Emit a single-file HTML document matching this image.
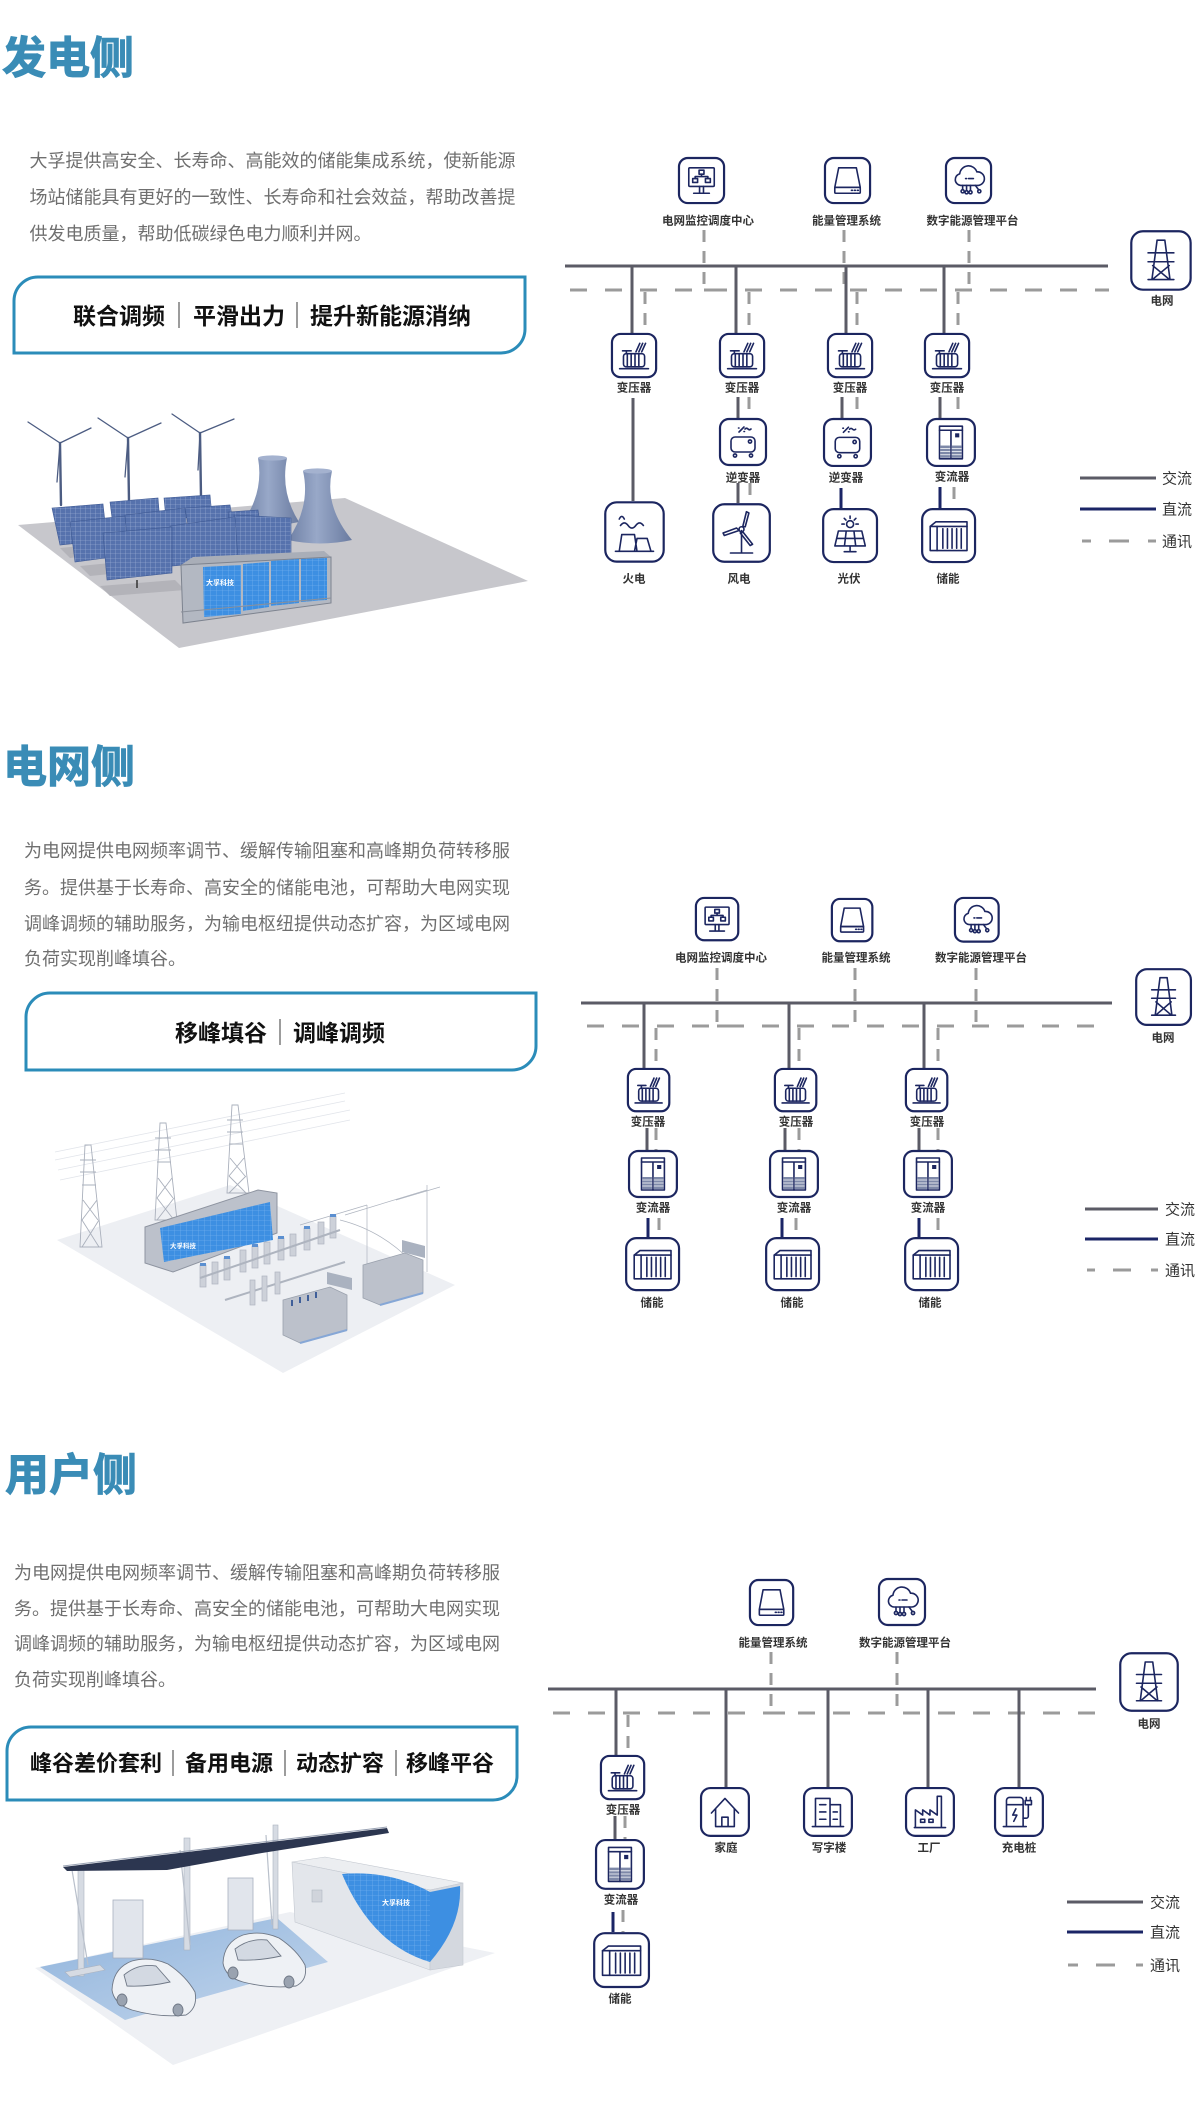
<!DOCTYPE html>
<html lang="zh-CN">
<head>
<meta charset="utf-8">
<title>发电侧 · 电网侧 · 用户侧</title>
<style>
  html,body{margin:0;padding:0;background:#fff;}
  body{width:1200px;height:2110px;overflow:hidden;}
  svg{display:block;}
  .t{font-family:"Liberation Sans","Noto Sans CJK SC",sans-serif;}
  .h{font-size:44px;font-weight:700;fill:#3a8cb6;stroke:#3a8cb6;stroke-width:1;}
  .p{font-size:18px;fill:#6f6f6f;}
  .b{font-size:23px;font-weight:700;fill:#111;}
  .b3{font-size:22px;font-weight:700;fill:#111;}
  .lb{font-size:11.5px;font-weight:700;fill:#333;text-anchor:middle;}
  .lg{font-size:15px;fill:#333;}
  .box{fill:none;stroke:#2b8cb9;stroke-width:3;}
  .sep{stroke:#666;stroke-width:1.3;}
  .ac{stroke:#5b5b66;stroke-width:3;}
  .dc{stroke:#1b2566;stroke-width:3;}
  .dh{stroke:#9b9b9b;stroke-width:3;stroke-dasharray:17 18;}
  .dv{stroke:#9b9b9b;stroke-width:3;stroke-dasharray:12 9;}
  .dl{stroke:#9b9b9b;stroke-width:3;}
  .ic{fill:none;stroke:#1c2660;stroke-width:1.6;stroke-linecap:round;stroke-linejoin:round;}
  .ic *{vector-effect:non-scaling-stroke;}
  .ic .o{fill:#fff;stroke-width:2.2;}
  .ic .f{fill:#1c2660;stroke:none;}
  .ic .g{fill:#7d88a8;stroke:none;}
  .ic .w{stroke:#fff;stroke-width:0.8;}
</style>
</head>
<body>
<svg width="1200" height="2110" viewBox="0 0 1200 2110" xmlns="http://www.w3.org/2000/svg">
<defs>
  <linearGradient id="ct" x1="0" x2="1" y1="0" y2="0">
    <stop offset="0" stop-color="#6f80a5"/>
    <stop offset="0.45" stop-color="#98a8c8"/>
    <stop offset="1" stop-color="#6a7ba0"/>
  </linearGradient>
  <pattern id="sp" width="5" height="4.5" patternUnits="userSpaceOnUse">
    <rect width="5" height="4.5" fill="#5672ad"/>
    <path d="M0 0H5M0 0V4.5" stroke="#a3b5da" stroke-width="0.6"/>
  </pattern>
  <pattern id="bp" width="6" height="5" patternUnits="userSpaceOnUse">
    <rect width="6" height="5" fill="#3d8fe2"/>
    <path d="M0 0H6M0 0V5" stroke="#7fb8f0" stroke-width="0.6"/>
  </pattern>
  <linearGradient id="sh" x1="0" x2="1" y1="0" y2="1">
    <stop offset="0" stop-color="#8fb3dc"/>
    <stop offset="1" stop-color="#c3d6ec"/>
  </linearGradient>
</defs>

<!-- ================= SECTION 1 : 发电侧 ================= -->
<text class="t h" x="2" y="73">发电侧</text>
<text class="t p" x="29.5" y="167">大孚提供高安全、长寿命、高能效的储能集成系统，使新能源</text>
<text class="t p" x="29.5" y="203.5">场站储能具有更好的一致性、长寿命和社会效益，帮助改善提</text>
<text class="t p" x="29.5" y="240">供发电质量，帮助低碳绿色电力顺利并网。</text>

<path class="box" d="M14 353V301A24 24 0 0 1 38 277H525V329A24 24 0 0 1 501 353Z"/>
<text class="t b" x="73" y="324">联合调频</text>
<line class="sep" x1="179" y1="302" x2="179" y2="328"/>
<text class="t b" x="193" y="324">平滑出力</text>
<line class="sep" x1="297" y1="302" x2="297" y2="328"/>
<text class="t b" x="310" y="324">提升新能源消纳</text>

<!-- illustration 1 -->
<g>
  <polygon points="18,525 345,498 528,581 179,648" fill="#c7c7cc"/>
  <polygon points="60,548 110,543 120,552 70,558" fill="#b3b3b9"/>
  <polygon points="80,566 140,560 150,570 90,576" fill="#b3b3b9"/>
  <polygon points="100,586 175,580 185,590 110,596" fill="#b3b3b9"/>
  <g stroke="#4c5c82" stroke-linecap="round">
    <line x1="60" y1="443" x2="61" y2="505" stroke-width="2.4"/>
    <line x1="60" y1="443" x2="28" y2="422" stroke-width="1.3"/>
    <line x1="60" y1="443" x2="91" y2="428" stroke-width="1.3"/>
    <line x1="60" y1="443" x2="57" y2="482" stroke-width="1.3"/>
    <line x1="128" y1="438" x2="129" y2="502" stroke-width="2.4"/>
    <line x1="128" y1="438" x2="98" y2="418" stroke-width="1.3"/>
    <line x1="128" y1="438" x2="161" y2="423" stroke-width="1.3"/>
    <line x1="128" y1="438" x2="125" y2="477" stroke-width="1.3"/>
    <line x1="200" y1="433" x2="201" y2="497" stroke-width="2.4"/>
    <line x1="200" y1="433" x2="172" y2="414" stroke-width="1.3"/>
    <line x1="200" y1="433" x2="234" y2="419" stroke-width="1.3"/>
    <line x1="200" y1="433" x2="198" y2="470" stroke-width="1.3"/>
  </g>
  <path d="M258 458H287Q280 492 299 522Q271 528 243 522Q264 492 258 458Z" fill="url(#ct)"/>
  <ellipse cx="272.5" cy="458" rx="14.5" ry="2.6" fill="#a4b2cf"/>
  <path d="M303 471H332Q324 506 352 540Q320 547 288 540Q311 506 303 471Z" fill="url(#ct)"/>
  <ellipse cx="317.5" cy="471" rx="14.5" ry="2.6" fill="#a4b2cf"/>
  <g fill="url(#sp)" stroke="#3f5a94" stroke-width="0.6">
    <polygon points="52,508 103,504 107,540 60,545"/>
    <polygon points="110,502 158,498 160,522 113,526"/>
    <polygon points="164,498 210,495 212,516 166,519"/>
    <polygon points="70,522 125,516 128,555 75,562"/>
    <polygon points="125,515 185,508 188,545 128,552"/>
    <polygon points="185,508 230,505 235,532 190,536"/>
    <polygon points="228,512 258,510 262,536 232,539"/>
    <polygon points="234,515 291,518 291,553 237,556"/>
    <polygon points="170,526 235,517 238,560 172,566"/>
    <polygon points="103,533 172,527 172,573 107,580"/>
  </g>
  <line x1="137" y1="580" x2="137" y2="588" stroke="#333" stroke-width="1.5"/>
  <line x1="236" y1="556" x2="236" y2="562" stroke="#333" stroke-width="1.5"/>
  <polygon points="181,565 193,557 324,551 331,557" fill="#a9aeb8"/>
  <polygon points="181,565 331,557 331,603 183,623" fill="#b3b8c2" stroke="#7d838f" stroke-width="1"/>
  <polygon points="203,567 241,565 241,614 204,617" fill="url(#bp)"/>
  <polygon points="243,564 269,562 269,607 243,611" fill="url(#bp)"/>
  <polygon points="271,561 299,559 299,603 271,606" fill="url(#bp)"/>
  <polygon points="301,559 327,558 327,600 301,602" fill="url(#bp)"/>
  <line x1="181" y1="612" x2="331" y2="598" stroke="#8a909b" stroke-width="1"/>
  <text class="t" x="206" y="585" font-size="7" fill="#fff" font-weight="700">大孚科技</text>
</g>

<!-- diagram 1 -->
<line class="ac" x1="565" y1="266" x2="1108" y2="266"/>
<line class="dh" x1="570" y1="290" x2="1109" y2="290"/>
<line class="dv" x1="704" y1="230" x2="704" y2="290"/>
<line class="dl" x1="704" y1="290" x2="721" y2="290"/>
<line class="dv" x1="844" y1="230" x2="844" y2="290"/>
<line class="dv" x1="969" y1="230" x2="969" y2="290"/>
<g>
  <line class="ac" x1="632" y1="266" x2="632" y2="333"/>
  <line class="ac" x1="736" y1="266" x2="736" y2="333"/>
  <line class="ac" x1="846" y1="266" x2="846" y2="333"/>
  <line class="ac" x1="944" y1="266" x2="944" y2="333"/>
  <line class="dv" x1="645" y1="292" x2="645" y2="333"/>
  <line class="dv" x1="749" y1="292" x2="749" y2="333"/>
  <line class="dv" x1="857" y1="292" x2="857" y2="333"/>
  <line class="dv" x1="958" y1="292" x2="958" y2="333"/>
  <line class="ac" x1="633" y1="398" x2="633" y2="501"/>
  <line class="ac" x1="738" y1="397" x2="738" y2="418"/>
  <line class="dv" x1="749" y1="397" x2="749" y2="418"/>
  <line class="ac" x1="738" y1="483" x2="738" y2="503"/>
  <line class="dv" x1="750" y1="483" x2="750" y2="503"/>
  <line class="ac" x1="842" y1="397" x2="842" y2="418"/>
  <line class="dv" x1="857" y1="397" x2="857" y2="418"/>
  <line class="dc" x1="841" y1="488" x2="841" y2="508"/>
  <line class="ac" x1="940" y1="397" x2="940" y2="418"/>
  <line class="dv" x1="958" y1="397" x2="958" y2="418"/>
  <line class="dc" x1="940" y1="487" x2="940" y2="508"/>
  <line class="dv" x1="954" y1="487" x2="954" y2="508"/>
</g>

<g class="ic" transform="translate(678,157) scale(0.98)">
  <rect class="o" x="1" y="1" width="46" height="46" rx="9"/>
  <rect x="11" y="11" width="26" height="19" rx="1"/>
  <path d="M22 30v7M26 30v7M16 37h16"/>
  <rect x="21.5" y="13.5" width="5" height="4"/><rect x="15" y="22" width="5" height="4"/><rect x="28" y="22" width="5" height="4"/>
  <path d="M24 17.5v2.5M17.5 22v-2h13v2"/>
</g>
<g class="ic" transform="translate(824,157) scale(0.98)">
  <rect class="o" x="1" y="1" width="46" height="46" rx="9"/>
  <path d="M15 11h18l4 20H11z"/><rect x="11" y="31" width="26" height="6" rx="1"/>
  <path d="M28 34h1M31 34h1M34 34h1"/>
</g>
<g class="ic" transform="translate(945,157) scale(0.98)">
  <rect class="o" x="1" y="1" width="46" height="46" rx="9"/>
  <path d="M16 29a6 6 0 0 1 -1 -11.8a9 9 0 0 1 17.5 -2a6.5 6.5 0 0 1 1.5 13.8Z"/>
  <path d="M21 22h1M24 22h5M18 29v4M22 29v5M26 29v5M31 29l3 4"/>
  <circle cx="18" cy="35" r="1.6"/><circle cx="22" cy="36" r="1.6"/><circle cx="26" cy="36" r="1.6"/><circle cx="35" cy="35" r="1.6"/>
</g>
<g class="ic" transform="translate(1130,230) scale(1.29,1.27)">
  <rect class="o" x="1" y="1" width="46" height="46" rx="9"/>
  <path d="M21 8h6M21 8l-4 31M27 8l4 31M14 18h20M14 25h20M17.6 28L30.6 39M30.4 28L17.4 39M14 39h20"/>
</g>
<g class="ic" transform="translate(611,333) scale(0.96,0.94)">
  <rect class="o" x="1" y="1" width="46" height="46" rx="9"/>
  <path d="M9 38h30"/><rect x="13" y="22" width="22" height="14" rx="3"/>
  <path d="M17 22v14M21 22v14M25 22v14M29 22v14M12 19h9M16 19v3M26 20l4-9M29 20l4-9M32 20l4-9"/>
</g>
<g class="ic" transform="translate(719,333) scale(0.96,0.94)">
  <rect class="o" x="1" y="1" width="46" height="46" rx="9"/>
  <path d="M9 38h30"/><rect x="13" y="22" width="22" height="14" rx="3"/>
  <path d="M17 22v14M21 22v14M25 22v14M29 22v14M12 19h9M16 19v3M26 20l4-9M29 20l4-9M32 20l4-9"/>
</g>
<g class="ic" transform="translate(827,333) scale(0.96,0.94)">
  <rect class="o" x="1" y="1" width="46" height="46" rx="9"/>
  <path d="M9 38h30"/><rect x="13" y="22" width="22" height="14" rx="3"/>
  <path d="M17 22v14M21 22v14M25 22v14M29 22v14M12 19h9M16 19v3M26 20l4-9M29 20l4-9M32 20l4-9"/>
</g>
<g class="ic" transform="translate(924,333) scale(0.96,0.94)">
  <rect class="o" x="1" y="1" width="46" height="46" rx="9"/>
  <path d="M9 38h30"/><rect x="13" y="22" width="22" height="14" rx="3"/>
  <path d="M17 22v14M21 22v14M25 22v14M29 22v14M12 19h9M16 19v3M26 20l4-9M29 20l4-9M32 20l4-9"/>
</g>
<g class="ic" transform="translate(719,418) scale(1.0,1.0)">
  <rect class="o" x="1" y="1" width="46" height="46" rx="9"/>
  <path d="M20 14l5-5M19.5 10h0.5M25 13.5h0.5M26 11q1.5-1.5 3 0t3 0"/>
  <rect x="12" y="19" width="24" height="15" rx="4"/><circle cx="31" cy="23.5" r="1.6"/>
  <circle cx="16" cy="37.5" r="1.6"/><circle cx="32" cy="37.5" r="1.6"/>
</g>
<g class="ic" transform="translate(823,418) scale(1.02,1.02)">
  <rect class="o" x="1" y="1" width="46" height="46" rx="9"/>
  <path d="M20 14l5-5M19.5 10h0.5M25 13.5h0.5M26 11q1.5-1.5 3 0t3 0"/>
  <rect x="12" y="19" width="24" height="15" rx="4"/><circle cx="31" cy="23.5" r="1.6"/>
  <circle cx="16" cy="37.5" r="1.6"/><circle cx="32" cy="37.5" r="1.6"/>
</g>
<g class="ic" transform="translate(926,418) scale(1.04,1.02)">
  <rect class="o" x="1" y="1" width="46" height="46" rx="9"/>
  <rect x="13" y="8" width="22" height="32"/><path d="M13 12h22M24 12v28"/>
  <rect class="f" x="28" y="15" width="4" height="4"/>
  <rect class="g" x="14" y="27" width="9" height="12"/><rect class="g" x="25" y="27" width="9" height="12"/>
  <path class="w" d="M14 30h9M14 33h9M14 36h9M25 30h9M25 33h9M25 36h9"/>
</g>
<g class="ic" transform="translate(604,501) scale(1.27,1.29)">
  <rect class="o" x="1" y="1" width="46" height="46" rx="9"/>
  <path d="M9 39h30M12 39l2-13h10l2 13M24 39l2-10h8l3 10"/>
  <path d="M13 19q3-4 6 0t6 0t6 0M12 14q2-4 4 0"/>
</g>
<g class="ic" transform="translate(712,503) scale(1.23,1.25)">
  <rect class="o" x="1" y="1" width="46" height="46" rx="9"/>
  <path d="M24 22v18M15 40h18"/><circle cx="24" cy="21" r="2"/>
  <path d="M25 19l3-12l2 1l-3 11z M22 22l-12 4l-1-2l11-4z M25 23l8 10l-2 1l-8-10z"/>
</g>
<g class="ic" transform="translate(822,508) scale(1.17,1.15)">
  <rect class="o" x="1" y="1" width="46" height="46" rx="9"/>
  <circle cx="24" cy="14" r="3"/>
  <path d="M24 7v2M19 9l1.5 1.5M29 9l-1.5 1.5M17 14h2M29 14h2"/>
  <path d="M14 20h20l3 13H11z M12.5 26.5h23 M20.7 20l-1.5 13 M27.3 20l1.5 13 M24 33v4 M19 38h10"/>
</g>
<g class="ic" transform="translate(921,508) scale(1.15,1.15)">
  <rect class="o" x="1" y="1" width="46" height="46" rx="9"/>
  <rect x="8" y="16" width="32" height="21"/>
  <path d="M8 16l5-4h27v4M14 16v21M19 18v17M23 18v17M27 18v17M31 18v17M35 18v17"/>
</g>

<g class="t">
  <text class="lb" x="708" y="224.3">电网监控调度中心</text>
  <text class="lb" x="846.5" y="224.3">能量管理系统</text>
  <text class="lb" x="972.5" y="224.3">数字能源管理平台</text>
  <text class="lb" x="1162" y="304.3">电网</text>
  <text class="lb" x="634" y="391.3">变压器</text>
  <text class="lb" x="742" y="391.3">变压器</text>
  <text class="lb" x="850" y="391.3">变压器</text>
  <text class="lb" x="947" y="391.3">变压器</text>
  <text class="lb" x="743" y="481.3">逆变器</text>
  <text class="lb" x="846" y="481.3">逆变器</text>
  <text class="lb" x="952" y="480.3">变流器</text>
  <text class="lb" x="634" y="582.3">火电</text>
  <text class="lb" x="739" y="582.3">风电</text>
  <text class="lb" x="849" y="582.3">光伏</text>
  <text class="lb" x="948" y="582.3">储能</text>
</g>
<line class="ac" x1="1080" y1="478" x2="1156" y2="478"/>
<line class="dc" x1="1080" y1="509" x2="1156" y2="509"/>
<line class="dl" x1="1082" y1="541" x2="1091" y2="541"/>
<line class="dl" x1="1109" y1="541" x2="1129" y2="541"/>
<line class="dl" x1="1148" y1="541" x2="1156" y2="541"/>
<text class="t lg" x="1162" y="483.7">交流</text>
<text class="t lg" x="1162" y="514.7">直流</text>
<text class="t lg" x="1162" y="546.7">通讯</text>

<!-- ================= SECTION 2 : 电网侧 ================= -->
<text class="t h" x="3" y="782">电网侧</text>
<text class="t p" x="24" y="857">为电网提供电网频率调节、缓解传输阻塞和高峰期负荷转移服</text>
<text class="t p" x="24" y="894">务。提供基于长寿命、高安全的储能电池，可帮助大电网实现</text>
<text class="t p" x="24" y="930">调峰调频的辅助服务，为输电枢纽提供动态扩容，为区域电网</text>
<text class="t p" x="24" y="965">负荷实现削峰填谷。</text>

<path class="box" d="M26 1070V1017A24 24 0 0 1 50 993H536V1046A24 24 0 0 1 512 1070Z"/>
<text class="t b" x="175" y="1041">移峰填谷</text>
<line class="sep" x1="280" y1="1019" x2="280" y2="1045"/>
<text class="t b" x="293" y="1041">调峰调频</text>

<!-- illustration 2 -->
<g>
  <polygon points="57,1240 230,1185 455,1285 283,1373" fill="#edeff3"/>
  <g stroke="#e1e4ea" stroke-width="0.8">
    <line x1="55" y1="1152" x2="345" y2="1093"/>
    <line x1="55" y1="1160" x2="345" y2="1101"/>
    <line x1="58" y1="1170" x2="350" y2="1110"/>
    <line x1="60" y1="1180" x2="350" y2="1120"/>
  </g>
  <g fill="none" stroke="#aab0bc" stroke-width="0.9">
    <path d="M85 1145h6l11 102h-22z M80 1160h16 M80 1172h16 M82 1185h14 M83 1200l15 20 M97 1200l-15 20 M82 1220l17 27 M99 1220l-17 27"/>
    <path d="M160 1123h6l11 97h-22z M155 1138h16 M155 1150h16 M157 1162h14 M158 1178l15 20 M172 1178l-15 20 M157 1198l17 22 M174 1198l-17 22"/>
    <path d="M232 1105h6l11 88h-22z M227 1120h16 M227 1132h16 M229 1144h14 M230 1158l15 18 M244 1158l-15 18 M229 1176l17 17 M246 1176l-17 17"/>
  </g>
  <polygon points="145,1227 258,1190 277,1193 277,1233 173,1272 145,1263" fill="#bcc1cb" stroke="#8e94a0" stroke-width="1"/>
  <polygon points="160,1228 270,1202 273,1240 164,1262" fill="url(#bp)"/>
  <text class="t" x="170" y="1248" font-size="6.5" fill="#fff" font-weight="700">大孚科技</text>
  <g fill="#cdd1d9" stroke="#aeb4bf" stroke-width="0.7">
    <path d="M367 1290V1205 M427 1272V1185 M345 1215L427 1190 M300 1225L367 1205" fill="none"/>
    <path d="M396 1200L440 1187 M340 1220Q380 1230 410 1260" fill="none"/>
    <rect x="200" y="1265" width="6" height="22"/>
    <rect x="212" y="1262" width="6" height="22"/>
    <rect x="224" y="1258" width="6" height="22"/>
    <rect x="240" y="1250" width="6" height="22"/>
    <rect x="252" y="1246" width="6" height="22"/>
    <rect x="264" y="1242" width="6" height="22"/>
    <rect x="278" y="1238" width="6" height="22"/>
    <rect x="290" y="1234" width="6" height="22"/>
    <rect x="304" y="1228" width="6" height="22"/>
    <rect x="318" y="1222" width="6" height="22"/>
    <rect x="330" y="1216" width="6" height="22"/>
    <path d="M200 1278L340 1230" fill="none" stroke-width="2"/>
    <path d="M225 1300L345 1262" fill="none" stroke-width="2"/>
    <rect x="250" y="1280" width="5" height="25"/>
    <rect x="262" y="1276" width="5" height="25"/>
    <rect x="275" y="1272" width="5" height="22"/>
  </g>
  <g fill="#5b8fd0">
    <rect x="200" y="1263" width="6" height="3"/><rect x="224" y="1256" width="6" height="3"/>
    <rect x="252" y="1244" width="6" height="3"/><rect x="278" y="1236" width="6" height="3"/>
    <rect x="304" y="1226" width="6" height="3"/><rect x="330" y="1214" width="6" height="3"/>
  </g>
  <polygon points="283,1300 330,1287 347,1295 347,1330 300,1343 283,1335" fill="#bcc1cb" stroke="#9aa1ad" stroke-width="0.8"/>
  <polygon points="327,1272 352,1278 352,1290 327,1284" fill="#aab2c0"/>
  <g stroke="#3f5f9a" stroke-width="2"><line x1="292" y1="1300" x2="292" y2="1306"/><line x1="300" y1="1297" x2="300" y2="1303"/><line x1="308" y1="1295" x2="308" y2="1301"/><line x1="316" y1="1292" x2="316" y2="1298"/></g>
  <polygon points="363,1265 405,1253 423,1260 423,1293 380,1305 363,1298" fill="#bcc1cb" stroke="#9aa1ad" stroke-width="0.8"/>
  <polygon points="402,1240 425,1246 425,1258 402,1252" fill="#aab2c0"/>
  <line x1="300" y1="1343" x2="347" y2="1330" stroke="#86a7d6" stroke-width="2"/>
  <line x1="380" y1="1305" x2="423" y2="1293" stroke="#86a7d6" stroke-width="2"/>
</g>

<!-- diagram 2 -->
<line class="ac" x1="581" y1="1003" x2="1112" y2="1003"/>
<line class="dh" x1="587" y1="1026" x2="1112" y2="1026"/>
<line class="dv" x1="717" y1="968" x2="717" y2="1026"/>
<line class="dl" x1="717" y1="1026" x2="734" y2="1026"/>
<line class="dv" x1="855" y1="968" x2="855" y2="1026"/>
<line class="dv" x1="976" y1="968" x2="976" y2="1026"/>
<line class="ac" x1="644" y1="1003" x2="644" y2="1068"/>
<line class="ac" x1="789" y1="1003" x2="789" y2="1068"/>
<line class="ac" x1="924" y1="1003" x2="924" y2="1068"/>
<line class="dv" x1="656" y1="1028" x2="656" y2="1068"/>
<line class="dv" x1="799" y1="1028" x2="799" y2="1068"/>
<line class="dv" x1="938" y1="1028" x2="938" y2="1068"/>
<line class="ac" x1="647" y1="1128" x2="647" y2="1150"/>
<line class="dv" x1="656" y1="1128" x2="656" y2="1150"/>
<line class="ac" x1="785" y1="1128" x2="785" y2="1150"/>
<line class="dv" x1="799" y1="1128" x2="799" y2="1150"/>
<line class="ac" x1="919" y1="1128" x2="919" y2="1150"/>
<line class="dv" x1="938" y1="1128" x2="938" y2="1150"/>
<line class="dc" x1="648" y1="1218" x2="648" y2="1237"/>
<line class="dv" x1="659" y1="1218" x2="659" y2="1237"/>
<line class="dc" x1="782" y1="1218" x2="782" y2="1237"/>
<line class="dv" x1="796" y1="1218" x2="796" y2="1237"/>
<line class="dc" x1="919" y1="1218" x2="919" y2="1237"/>
<line class="dv" x1="938" y1="1218" x2="938" y2="1237"/>

<g class="ic" transform="translate(695,897) scale(0.92)">
  <rect class="o" x="1" y="1" width="46" height="46" rx="9"/>
  <rect x="11" y="11" width="26" height="19" rx="1"/>
  <path d="M22 30v7M26 30v7M16 37h16"/>
  <rect x="21.5" y="13.5" width="5" height="4"/><rect x="15" y="22" width="5" height="4"/><rect x="28" y="22" width="5" height="4"/>
  <path d="M24 17.5v2.5M17.5 22v-2h13v2"/>
</g>
<g class="ic" transform="translate(831,898) scale(0.88,0.92)">
  <rect class="o" x="1" y="1" width="46" height="46" rx="9"/>
  <path d="M15 11h18l4 20H11z"/><rect x="11" y="31" width="26" height="6" rx="1"/>
  <path d="M28 34h1M31 34h1M34 34h1"/>
</g>
<g class="ic" transform="translate(954,897) scale(0.95)">
  <rect class="o" x="1" y="1" width="46" height="46" rx="9"/>
  <path d="M16 29a6 6 0 0 1 -1 -11.8a9 9 0 0 1 17.5 -2a6.5 6.5 0 0 1 1.5 13.8Z"/>
  <path d="M21 22h1M24 22h5M18 29v4M22 29v5M26 29v5M31 29l3 4"/>
  <circle cx="18" cy="35" r="1.6"/><circle cx="22" cy="36" r="1.6"/><circle cx="26" cy="36" r="1.6"/><circle cx="35" cy="35" r="1.6"/>
</g>
<g class="ic" transform="translate(1135,968) scale(1.19,1.21)">
  <rect class="o" x="1" y="1" width="46" height="46" rx="9"/>
  <path d="M21 8h6M21 8l-4 31M27 8l4 31M14 18h20M14 25h20M17.6 28L30.6 39M30.4 28L17.4 39M14 39h20"/>
</g>
<g class="ic" transform="translate(627,1068) scale(0.9,0.92)">
  <rect class="o" x="1" y="1" width="46" height="46" rx="9"/>
  <path d="M9 38h30"/><rect x="13" y="22" width="22" height="14" rx="3"/>
  <path d="M17 22v14M21 22v14M25 22v14M29 22v14M12 19h9M16 19v3M26 20l4-9M29 20l4-9M32 20l4-9"/>
</g>
<g class="ic" transform="translate(774,1068) scale(0.9,0.92)">
  <rect class="o" x="1" y="1" width="46" height="46" rx="9"/>
  <path d="M9 38h30"/><rect x="13" y="22" width="22" height="14" rx="3"/>
  <path d="M17 22v14M21 22v14M25 22v14M29 22v14M12 19h9M16 19v3M26 20l4-9M29 20l4-9M32 20l4-9"/>
</g>
<g class="ic" transform="translate(905,1068) scale(0.9,0.92)">
  <rect class="o" x="1" y="1" width="46" height="46" rx="9"/>
  <path d="M9 38h30"/><rect x="13" y="22" width="22" height="14" rx="3"/>
  <path d="M17 22v14M21 22v14M25 22v14M29 22v14M12 19h9M16 19v3M26 20l4-9M29 20l4-9M32 20l4-9"/>
</g>
<g class="ic" transform="translate(628,1150) scale(1.04,1.0)">
  <rect class="o" x="1" y="1" width="46" height="46" rx="9"/>
  <rect x="13" y="8" width="22" height="32"/><path d="M13 12h22M24 12v28"/>
  <rect class="f" x="28" y="15" width="4" height="4"/>
  <rect class="g" x="14" y="27" width="9" height="12"/><rect class="g" x="25" y="27" width="9" height="12"/>
  <path class="w" d="M14 30h9M14 33h9M14 36h9M25 30h9M25 33h9M25 36h9"/>
</g>
<g class="ic" transform="translate(769,1150) scale(1.04,1.0)">
  <rect class="o" x="1" y="1" width="46" height="46" rx="9"/>
  <rect x="13" y="8" width="22" height="32"/><path d="M13 12h22M24 12v28"/>
  <rect class="f" x="28" y="15" width="4" height="4"/>
  <rect class="g" x="14" y="27" width="9" height="12"/><rect class="g" x="25" y="27" width="9" height="12"/>
  <path class="w" d="M14 30h9M14 33h9M14 36h9M25 30h9M25 33h9M25 36h9"/>
</g>
<g class="ic" transform="translate(903,1150) scale(1.04,1.0)">
  <rect class="o" x="1" y="1" width="46" height="46" rx="9"/>
  <rect x="13" y="8" width="22" height="32"/><path d="M13 12h22M24 12v28"/>
  <rect class="f" x="28" y="15" width="4" height="4"/>
  <rect class="g" x="14" y="27" width="9" height="12"/><rect class="g" x="25" y="27" width="9" height="12"/>
  <path class="w" d="M14 30h9M14 33h9M14 36h9M25 30h9M25 33h9M25 36h9"/>
</g>
<g class="ic" transform="translate(625,1237) scale(1.15,1.13)">
  <rect class="o" x="1" y="1" width="46" height="46" rx="9"/>
  <rect x="8" y="16" width="32" height="21"/>
  <path d="M8 16l5-4h27v4M14 16v21M19 18v17M23 18v17M27 18v17M31 18v17M35 18v17"/>
</g>
<g class="ic" transform="translate(765,1237) scale(1.15,1.13)">
  <rect class="o" x="1" y="1" width="46" height="46" rx="9"/>
  <rect x="8" y="16" width="32" height="21"/>
  <path d="M8 16l5-4h27v4M14 16v21M19 18v17M23 18v17M27 18v17M31 18v17M35 18v17"/>
</g>
<g class="ic" transform="translate(904,1237) scale(1.15,1.13)">
  <rect class="o" x="1" y="1" width="46" height="46" rx="9"/>
  <rect x="8" y="16" width="32" height="21"/>
  <path d="M8 16l5-4h27v4M14 16v21M19 18v17M23 18v17M27 18v17M31 18v17M35 18v17"/>
</g>
<g class="t">
  <text class="lb" x="721" y="961.3">电网监控调度中心</text>
  <text class="lb" x="856" y="961.3">能量管理系统</text>
  <text class="lb" x="981" y="961.3">数字能源管理平台</text>
  <text class="lb" x="1163" y="1041.3">电网</text>
  <text class="lb" x="648" y="1125.3">变压器</text>
  <text class="lb" x="796" y="1125.3">变压器</text>
  <text class="lb" x="927" y="1125.3">变压器</text>
  <text class="lb" x="653" y="1211.3">变流器</text>
  <text class="lb" x="794" y="1211.3">变流器</text>
  <text class="lb" x="928" y="1211.3">变流器</text>
  <text class="lb" x="652" y="1306.3">储能</text>
  <text class="lb" x="792" y="1306.3">储能</text>
  <text class="lb" x="930" y="1306.3">储能</text>
</g>
<line class="ac" x1="1085" y1="1209" x2="1158" y2="1209"/>
<line class="dc" x1="1085" y1="1239" x2="1158" y2="1239"/>
<line class="dl" x1="1087" y1="1270" x2="1095" y2="1270"/>
<line class="dl" x1="1113" y1="1270" x2="1131" y2="1270"/>
<line class="dl" x1="1151" y1="1270" x2="1158" y2="1270"/>
<text class="t lg" x="1165" y="1214.7">交流</text>
<text class="t lg" x="1165" y="1244.7">直流</text>
<text class="t lg" x="1165" y="1275.7">通讯</text>

<!-- ================= SECTION 3 : 用户侧 ================= -->
<text class="t h" x="5" y="1490">用户侧</text>
<text class="t p" x="14" y="1579">为电网提供电网频率调节、缓解传输阻塞和高峰期负荷转移服</text>
<text class="t p" x="14" y="1615">务。提供基于长寿命、高安全的储能电池，可帮助大电网实现</text>
<text class="t p" x="14" y="1650">调峰调频的辅助服务，为输电枢纽提供动态扩容，为区域电网</text>
<text class="t p" x="14" y="1686">负荷实现削峰填谷。</text>

<path class="box" d="M7 1800V1751A24 24 0 0 1 31 1727H517V1776A24 24 0 0 1 493 1800Z"/>
<text class="t b3" x="30" y="1771">峰谷差价套利</text>
<line class="sep" x1="173" y1="1750" x2="173" y2="1776"/>
<text class="t b3" x="185" y="1771">备用电源</text>
<line class="sep" x1="285" y1="1750" x2="285" y2="1776"/>
<text class="t b3" x="296" y="1771">动态扩容</text>
<line class="sep" x1="396" y1="1750" x2="396" y2="1776"/>
<text class="t b3" x="406" y="1771">移峰平谷</text>

<!-- illustration 3 -->
<g>
  <polygon points="35,1968 290,1912 495,1953 173,2065" fill="#eef0f4"/>
  <polygon points="40,1967 277,1918 328,1962 200,1998 125,2020" fill="url(#sh)"/>
  <g fill="#d6dbe3" stroke="#aab2bf" stroke-width="0.6">
    <rect x="78" y="1866" width="6" height="110"/>
    <rect x="184" y="1838" width="6" height="112"/>
    <rect x="273" y="1825" width="5" height="104"/>
    <polygon points="65,1972 100,1965 105,1970 70,1977"/>
  </g>
  <g stroke="#b9c0cb" stroke-width="1.2">
    <line x1="72" y1="1870" x2="88" y2="1965"/>
    <line x1="180" y1="1850" x2="190" y2="1945"/>
    <line x1="266" y1="1835" x2="272" y2="1925"/>
  </g>
  <polygon points="63,1867 387,1828 389,1833 262,1853 167,1870 67,1871" fill="#2c3650"/>
  <line x1="63" y1="1866" x2="387" y2="1827" stroke="#9aa3b4" stroke-width="1"/>
  <rect x="113" y="1900" width="30" height="58" fill="#e1e5ec" stroke="#a8b0bf" stroke-width="0.8"/>
  <rect x="228" y="1878" width="25" height="52" fill="#e1e5ec" stroke="#a8b0bf" stroke-width="0.8"/>
  <!-- cars -->
  <g stroke="#6f7886" stroke-width="0.9">
    <path d="M112 1990Q113 1968 132 1961Q150 1956 168 1964Q186 1976 195 1992Q198 2008 186 2015Q160 2018 132 2010Q114 2004 112 1990Z" fill="#eef1f5"/>
    <path d="M124 1975Q138 1963 156 1966L170 1982Q148 1987 127 1986Z" fill="#d3d9e2"/>
    <ellipse cx="122" cy="2000" rx="5" ry="6" fill="#9aa3b0"/>
    <ellipse cx="178" cy="2010" rx="5" ry="6" fill="#9aa3b0"/>
    <path d="M223 1963Q224 1942 243 1935Q261 1930 279 1938Q297 1950 305 1965Q308 1980 296 1986Q270 1989 243 1982Q225 1977 223 1963Z" fill="#eef1f5"/>
    <path d="M235 1949Q249 1938 267 1940L281 1956Q259 1961 238 1960Z" fill="#d3d9e2"/>
    <ellipse cx="233" cy="1973" rx="5" ry="6" fill="#9aa3b0"/>
    <ellipse cx="289" cy="1982" rx="5" ry="6" fill="#9aa3b0"/>
  </g>
  <polygon points="292,1862 325,1857 463,1883 430,1890" fill="#eceef1" stroke="#c3c8d0" stroke-width="0.6"/>
  <polygon points="292,1862 430,1890 430,1970 295,1922" fill="#e3e6eb" stroke="#c3c8d0" stroke-width="0.6"/>
  <polygon points="430,1890 463,1883 463,1965 430,1970" fill="#d4d8df" stroke="#c3c8d0" stroke-width="0.6"/>
  <path d="M342 1874Q390 1870 430 1892L430 1962Q372 1945 342 1874Z" fill="url(#bp)"/>
  <path d="M430 1892L460 1886Q462 1925 430 1962Z" fill="#3d8fe2"/>
  <rect x="312" y="1890" width="10" height="12" fill="#d0d4db" stroke="#aab1bc" stroke-width="0.5"/>
  <text class="t" x="382" y="1905" font-size="7" fill="#fff" font-weight="700">大孚科技</text>
</g>

<!-- diagram 3 -->
<line class="ac" x1="548" y1="1689" x2="1096" y2="1689"/>
<line class="dh" x1="553" y1="1713" x2="1096" y2="1713"/>
<line class="dv" x1="771" y1="1652" x2="771" y2="1713"/>
<line class="dl" x1="771" y1="1713" x2="785" y2="1713"/>
<line class="dv" x1="897" y1="1652" x2="897" y2="1713"/>
<line class="ac" x1="616" y1="1689" x2="616" y2="1755"/>
<line class="dv" x1="628" y1="1715" x2="628" y2="1755"/>
<line class="ac" x1="726" y1="1689" x2="726" y2="1787"/>
<line class="ac" x1="828" y1="1689" x2="828" y2="1787"/>
<line class="ac" x1="928" y1="1689" x2="928" y2="1787"/>
<line class="ac" x1="1019" y1="1689" x2="1019" y2="1787"/>
<line class="ac" x1="615" y1="1816" x2="615" y2="1839"/>
<line class="dv" x1="625" y1="1816" x2="625" y2="1839"/>
<line class="dc" x1="613" y1="1912" x2="613" y2="1932"/>
<line class="dv" x1="623" y1="1910" x2="623" y2="1932"/>

<g class="ic" transform="translate(749,1579) scale(0.94,0.98)">
  <rect class="o" x="1" y="1" width="46" height="46" rx="9"/>
  <path d="M15 11h18l4 20H11z"/><rect x="11" y="31" width="26" height="6" rx="1"/>
  <path d="M28 34h1M31 34h1M34 34h1"/>
</g>
<g class="ic" transform="translate(878,1578) scale(1.0)">
  <rect class="o" x="1" y="1" width="46" height="46" rx="9"/>
  <path d="M16 29a6 6 0 0 1 -1 -11.8a9 9 0 0 1 17.5 -2a6.5 6.5 0 0 1 1.5 13.8Z"/>
  <path d="M21 22h1M24 22h5M18 29v4M22 29v5M26 29v5M31 29l3 4"/>
  <circle cx="18" cy="35" r="1.6"/><circle cx="22" cy="36" r="1.6"/><circle cx="26" cy="36" r="1.6"/><circle cx="35" cy="35" r="1.6"/>
</g>
<g class="ic" transform="translate(1119,1652) scale(1.25)">
  <rect class="o" x="1" y="1" width="46" height="46" rx="9"/>
  <path d="M21 8h6M21 8l-4 31M27 8l4 31M14 18h20M14 25h20M17.6 28L30.6 39M30.4 28L17.4 39M14 39h20"/>
</g>
<g class="ic" transform="translate(600,1755) scale(0.94)">
  <rect class="o" x="1" y="1" width="46" height="46" rx="9"/>
  <path d="M9 38h30"/><rect x="13" y="22" width="22" height="14" rx="3"/>
  <path d="M17 22v14M21 22v14M25 22v14M29 22v14M12 19h9M16 19v3M26 20l4-9M29 20l4-9M32 20l4-9"/>
</g>
<g class="ic" transform="translate(595,1839) scale(1.04,1.06)">
  <rect class="o" x="1" y="1" width="46" height="46" rx="9"/>
  <rect x="13" y="8" width="22" height="32"/><path d="M13 12h22M24 12v28"/>
  <rect class="f" x="28" y="15" width="4" height="4"/>
  <rect class="g" x="14" y="27" width="9" height="12"/><rect class="g" x="25" y="27" width="9" height="12"/>
  <path class="w" d="M14 30h9M14 33h9M14 36h9M25 30h9M25 33h9M25 36h9"/>
</g>
<g class="ic" transform="translate(593,1932) scale(1.19,1.17)">
  <rect class="o" x="1" y="1" width="46" height="46" rx="9"/>
  <rect x="8" y="16" width="32" height="21"/>
  <path d="M8 16l5-4h27v4M14 16v21M19 18v17M23 18v17M27 18v17M31 18v17M35 18v17"/>
</g>
<g class="ic" transform="translate(700,1787) scale(1.04)">
  <rect class="o" x="1" y="1" width="46" height="46" rx="9"/>
  <path d="M11 25L24 11l13 14M15 21v17h18V21M21 38v-9h6v9"/>
</g>
<g class="ic" transform="translate(803,1787) scale(1.04)">
  <rect class="o" x="1" y="1" width="46" height="46" rx="9"/>
  <path d="M12 38V11h14v27M26 17h10v21M9 38h30M16 17h6M16 24h6M16 31h6M29 24h4M29 31h4"/>
</g>
<g class="ic" transform="translate(905,1787) scale(1.04)">
  <rect class="o" x="1" y="1" width="46" height="46" rx="9"/>
  <path d="M10 39V22l7 5v-5l7 5v-5l7 5V9h4v30z M9 39h30"/>
  <rect x="15" y="31" width="4" height="3"/><rect x="23" y="31" width="4" height="3"/>
</g>
<g class="ic" transform="translate(994,1787) scale(1.04)">
  <rect class="o" x="1" y="1" width="46" height="46" rx="9"/>
  <path d="M12 38V13a3 3 0 0 1 3-3h10a3 3 0 0 1 3 3v25M9 38h22M12 17h16"/>
  <path d="M21 21l-3 6h4l-3 6"/>
  <path d="M28 30h3a2 2 0 0 0 2-2V17M31 13v-3M35 13v-3M30 13h6v4h-6z"/>
</g>
<g class="t">
  <text class="lb" x="773" y="1646.3">能量管理系统</text>
  <text class="lb" x="905" y="1646.3">数字能源管理平台</text>
  <text class="lb" x="1149" y="1727.3">电网</text>
  <text class="lb" x="623" y="1813.3">变压器</text>
  <text class="lb" x="621" y="1903.3">变流器</text>
  <text class="lb" x="620" y="2002.3">储能</text>
  <text class="lb" x="726" y="1851.3">家庭</text>
  <text class="lb" x="829" y="1851.3">写字楼</text>
  <text class="lb" x="929" y="1851.3">工厂</text>
  <text class="lb" x="1019" y="1851.3">充电桩</text>
</g>
<line class="ac" x1="1067" y1="1902" x2="1143" y2="1902"/>
<line class="dc" x1="1067" y1="1932" x2="1143" y2="1932"/>
<line class="dl" x1="1068" y1="1965" x2="1078" y2="1965"/>
<line class="dl" x1="1096" y1="1965" x2="1115" y2="1965"/>
<line class="dl" x1="1136" y1="1965" x2="1143" y2="1965"/>
<text class="t lg" x="1150" y="1907.7">交流</text>
<text class="t lg" x="1150" y="1937.7">直流</text>
<text class="t lg" x="1150" y="1970.7">通讯</text>
</svg>
</body>
</html>
